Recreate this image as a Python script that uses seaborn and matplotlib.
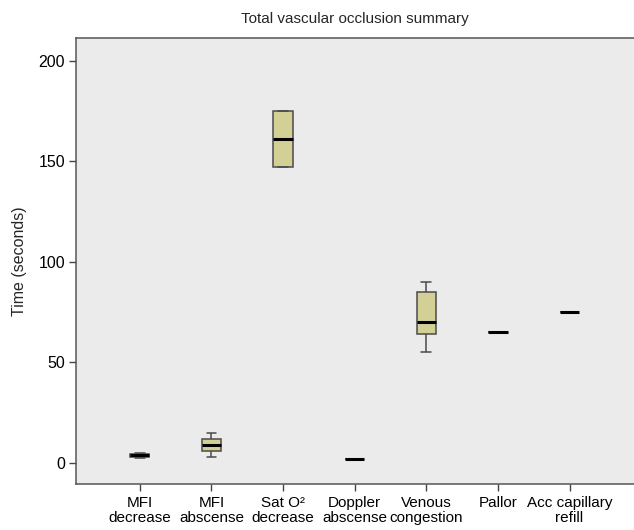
import pandas as pd
import numpy as np
import matplotlib
matplotlib.use("Agg")
import matplotlib.pyplot as plt
import seaborn as sns

# Values (seconds)
categories = ["MFI\ndecrease", "MFI\nabscense", "Sat O\u00b2\ndecrease", "Doppler\nabscense",
              "Venous\ncongestion", "Pallor", "Acc capillary\nrefill"]
mfi_decrease = [2.5, 3, 3.8, 4.5, 5]
mfi_abscense = [3, 6, 9, 12, 15]
sat_o2_decrease = [147, 147, 161, 175, 175]
doppler_abscense = [2, 2, 2]
venous_congestion = [55, 64, 70, 85, 90]
pallor = [65, 65]
acc_capillary_refill = [75, 75]
yticks = [0, 50, 100, 150, 200]

series = [mfi_decrease, mfi_abscense, sat_o2_decrease, doppler_abscense,
          venous_congestion, pallor, acc_capillary_refill]
rows = []
for cat, vals in zip(categories, series):
    for v in vals:
        rows.append({"event": cat, "time": v})
df = pd.DataFrame(rows)

sns.set_style("white")
plt.rcParams["font.family"] = ["Liberation Sans", "DejaVu Sans"]

fig = plt.figure(figsize=(6.34, 5.30), dpi=100)
ax = fig.add_axes([0.1199, 0.0868, 0.8801, 0.8415])
ax.set_facecolor("#ebebeb")

sns.boxplot(data=df, x="event", y="time", order=categories, ax=ax,
            color="#d3d096", saturation=1, width=0.27, linecolor="#4a4a4a",
            linewidth=1.1, showfliers=False, whis=3,
            medianprops=dict(color="black", linewidth=2.2))

ax.set_xlim(-0.89, 6.9)
ax.set_ylim(-10.6, 211.3)
ax.set_yticks(yticks)
ax.set_yticklabels([str(t) for t in yticks])
ax.tick_params(axis="x", labelsize=11, length=5, width=1, color="#444444", direction="out", pad=4)
ax.tick_params(axis="y", labelsize=11.5, length=5, width=1, color="#444444", direction="out", pad=3)
ax.tick_params(bottom=True, left=True)
for lbl in ax.get_xticklabels():
    lbl.set_linespacing(1.05)
for lbl in ax.get_xticklabels() + ax.get_yticklabels():
    lbl.set_color("black")

for side in ["left", "bottom", "top"]:
    ax.spines[side].set_color("#555555")
    ax.spines[side].set_linewidth(1.1)
ax.spines["right"].set_visible(False)

ax.set_xlabel("")
ax.set_ylabel("Time (seconds)", fontsize=11.5, labelpad=8)
ax.set_title("Total vascular occlusion summary", fontsize=11, pad=11)

fig.savefig("out.png", dpi=100)
